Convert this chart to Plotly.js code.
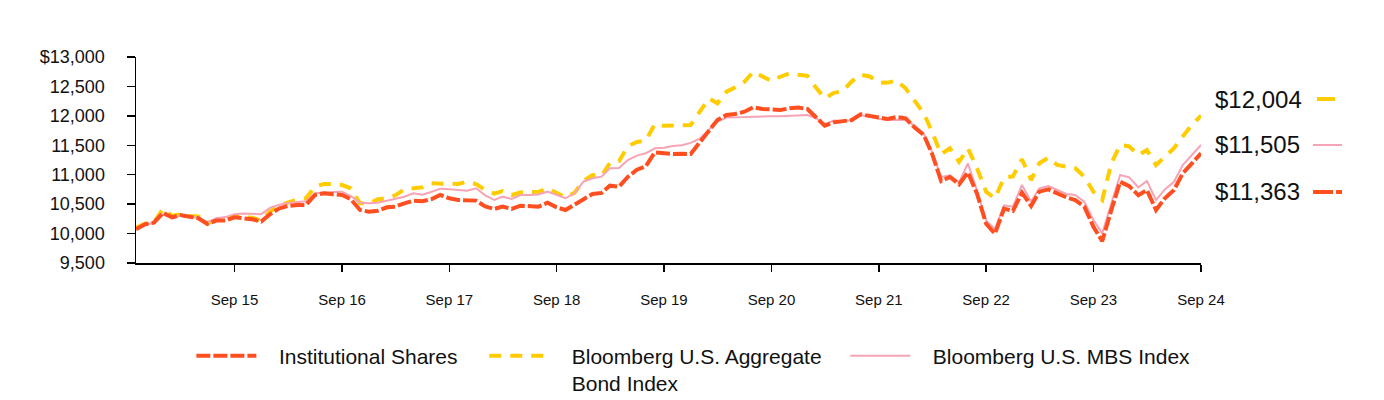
<!DOCTYPE html>
<html>
<head>
<meta charset="utf-8">
<script src="https://cdn.plot.ly/plotly-3.0.1.min.js"></script>
<style>html,body{margin:0;padding:0;background:#fff;}#chart{width:1384px;height:400px;}</style>
</head>
<body>
<div id="chart"></div>
<script>
// Monthly observations, Oct 2014 – Sep 2024
const startYear = 2014, startMonth = 10, nMonths = 120;
const months = [];
for (let k = 0; k < nMonths; k++) {
  const m = (startMonth - 1 + k) % 12 + 1;
  const y = startYear + Math.floor((startMonth - 1 + k) / 12);
  months.push(y + '-' + String(m).padStart(2, '0') + '-01');
}

const seriesNames = ['Institutional Shares', 'Bloomberg U.S. Aggregate<br>Bond Index', 'Bloomberg U.S. MBS Index'];

const institutional = [
  10072,10158,10185,10355,10277,10316,10287,10260,10163,10220,10220,10277,
  10260,10243,10203,10333,10430,10469,10486,10486,10655,10684,10667,10655,
  10582,10401,10372,10389,10446,10457,10514,10559,10548,10582,10655,10599,
  10570,10565,10560,10460,10418,10457,10418,10474,10474,10457,10525,10446,
  10400,10486,10576,10672,10690,10814,10795,10961,11085,11143,11380,11363,
  11352,11355,11352,11551,11760,11930,12015,12032,12071,12145,12117,12111,
  12100,12128,12140,12117,11958,11833,11890,11913,11930,12026,12003,11970,
  11947,11981,11958,11800,11675,11358,10893,10961,10836,11040,10677,10167,
  9997,10425,10384,10694,10469,10712,10750,10684,10616,10570,10457,10117,
  9870,10400,10880,10806,10650,10740,10400,10600,10740,11023,11200,11363
];

const aggregate = [
  10100,10170,10190,10420,10300,10330,10300,10290,10180,10230,10240,10290,
  10280,10270,10220,10380,10470,10530,10570,10600,10797,10842,10842,10825,
  10769,10514,10514,10582,10599,10650,10752,10763,10786,10854,10854,10842,
  10842,10882,10842,10740,10680,10720,10655,10700,10700,10710,10770,10690,
  10615,10695,10893,10995,10985,11200,11228,11483,11556,11579,11860,11830,
  11840,11835,11845,12071,12298,12213,12411,12485,12580,12750,12665,12592,
  12665,12723,12700,12680,12468,12298,12390,12420,12587,12700,12670,12560,
  12565,12600,12467,12240,12043,11730,11350,11450,11220,11450,11110,10710,
  10600,10950,10970,11263,10910,11195,11290,11165,11140,11110,10970,10712,
  10570,11195,11505,11480,11335,11420,11165,11310,11450,11650,11845,12004
];

const mbs = [
  10080,10160,10180,10320,10260,10300,10290,10270,10190,10260,10280,10330,
  10340,10330,10330,10440,10490,10520,10540,10550,10684,10701,10707,10712,
  10638,10525,10514,10525,10559,10599,10627,10684,10661,10707,10763,10752,
  10740,10729,10769,10650,10570,10627,10590,10655,10655,10665,10712,10655,
  10600,10684,10882,10940,10967,11109,11115,11250,11324,11364,11448,11460,
  11487,11500,11540,11612,11760,11902,11970,11975,11980,11992,11995,11992,
  11992,12000,12015,12015,11958,11856,11920,11913,11925,12010,11990,11950,
  11930,11935,11930,11830,11700,11390,10961,10990,10870,11190,10730,10220,
  10080,10480,10457,10825,10542,10769,10806,10740,10672,10655,10542,10230,
  10003,10514,10995,10955,10786,10893,10570,10750,10880,11165,11335,11505
];

const xTickVals = ['2015-09-01','2016-09-01','2017-09-01','2018-09-01','2019-09-01','2020-09-01','2021-09-01','2022-09-01','2023-09-01','2024-09-01'];
const xTickText = ['Sep 15','Sep 16','Sep 17','Sep 18','Sep 19','Sep 20','Sep 21','Sep 22','Sep 23','Sep 24'];
const yTickVals = [9500,10000,10500,11000,11500,12000,12500,13000];
const yTickText = ['9,500','10,000','10,500','11,000','11,500','12,000','12,500','$13,000'];

const ORANGE = '#FF4E1F', YELLOW = '#FFCC00', PINK = '#F7A3B6';
const FONT = '"Liberation Sans", Arial, sans-serif';
const PAD = '&nbsp;&nbsp;&nbsp;';

const fmt = v => '$' + v.toLocaleString('en-US');
const padName = s => s.split('<br>').map(p => PAD + p).join('<br>');

const traces = [
  {x: months, y: aggregate, name: padName(seriesNames[1]), type: 'scatter', mode: 'lines',
   line: {color: YELLOW, width: 4, dash: '12px,9px'}, legend: 'legend2', hoverinfo: 'skip'},
  {x: months, y: mbs, name: padName(seriesNames[2]), type: 'scatter', mode: 'lines',
   line: {color: PINK, width: 2}, legend: 'legend3', hoverinfo: 'skip'},
  {x: months, y: institutional, name: padName(seriesNames[0]), type: 'scatter', mode: 'lines',
   line: {color: ORANGE, width: 4, dash: '14px,3px'}, legend: 'legend', hoverinfo: 'skip'}
];

const legendBase = {orientation: 'h', xanchor: 'left', yanchor: 'top', bgcolor: 'rgba(0,0,0,0)',
  font: {family: FONT, size: 21, color: '#111'}, itemwidth: 60, valign: 'top'};

const layout = {
  width: 1384, height: 400,
  margin: {l: 136, r: 183, t: 57, b: 137, autoexpand: false},
  paper_bgcolor: '#fff', plot_bgcolor: '#fff',
  font: {family: FONT, color: '#111'},
  showlegend: true,
  xaxis: {
    type: 'date', range: [months[0], months[months.length - 1]],
    tickvals: xTickVals, ticktext: xTickText,
    showgrid: false, zeroline: false, showline: true, linecolor: '#000', linewidth: 1.5,
    ticks: 'outside', ticklen: 7, tickwidth: 1.5, tickcolor: '#000',
    tickfont: {family: FONT, size: 15, color: '#111'}, ticklabelstandoff: 15
  },
  yaxis: {
    range: [9500, 13000], tickvals: yTickVals, ticktext: yTickText,
    showgrid: false, zeroline: false, showline: true, linecolor: '#000', linewidth: 1.5,
    ticks: 'outside', ticklen: 8, tickwidth: 1.5, tickcolor: '#000',
    tickfont: {family: FONT, size: 18, color: '#111'}, ticklabelstandoff: 18
  },
  legend: Object.assign({}, legendBase, {x: 0.052, y: -0.352}),
  legend2: Object.assign({}, legendBase, {x: 0.327, y: -0.352}),
  legend3: Object.assign({}, legendBase, {x: 0.666, y: -0.352}),
  annotations: [
    {xref: 'paper', yref: 'paper', x: 1.011, y: 0.796, xanchor: 'left', yanchor: 'middle',
     text: fmt(aggregate[aggregate.length - 1]), showarrow: false, font: {family: FONT, size: 24, color: '#111'}},
    {xref: 'paper', yref: 'paper', x: 1.011, y: 0.573, xanchor: 'left', yanchor: 'middle',
     text: fmt(mbs[mbs.length - 1]), showarrow: false, font: {family: FONT, size: 24, color: '#111'}},
    {xref: 'paper', yref: 'paper', x: 1.011, y: 0.345, xanchor: 'left', yanchor: 'middle',
     text: fmt(institutional[institutional.length - 1]), showarrow: false, font: {family: FONT, size: 24, color: '#111'}}
  ],
  shapes: [
    {type: 'line', xref: 'paper', yref: 'paper', x0: 1.1089, x1: 1.1258, y0: 0.796, y1: 0.796,
     line: {color: YELLOW, width: 4}},
    {type: 'line', xref: 'paper', yref: 'paper', x0: 1.1052, x1: 1.1324, y0: 0.573, y1: 0.573,
     line: {color: PINK, width: 2}},
    {type: 'line', xref: 'paper', yref: 'paper', x0: 1.1052, x1: 1.1324, y0: 0.345, y1: 0.345,
     line: {color: ORANGE, width: 4, dash: '20px,3px,7px,3px'}}
  ]
};

Plotly.newPlot('chart', traces, layout, {staticPlot: true, displayModeBar: false});
</script>
</body>
</html>
